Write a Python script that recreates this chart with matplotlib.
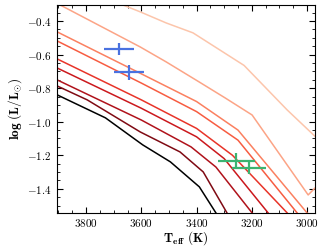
import matplotlib
matplotlib.use('Agg')
import matplotlib.pyplot as plt
from matplotlib.ticker import MultipleLocator

plt.rcParams['mathtext.fontset'] = 'cm'
plt.rcParams['font.family'] = 'serif'
plt.rcParams['font.serif'] = ['cmr10']
plt.rcParams['axes.formatter.use_mathtext'] = True
plt.rcParams['axes.unicode_minus'] = True

# --- isochrone tracks (Teff, log L), light -> dark ---
teff_1 = [3720, 3604, 3510, 3413, 3228, 3072, 2950]
logl_1 = [-0.27, -0.346, -0.412, -0.471, -0.665, -0.93, -1.12]
teff_2 = [3950, 3894, 3604, 3510, 3391, 3297, 3199, 2996, 2950]
logl_2 = [-0.27, -0.305, -0.555, -0.644, -0.763, -0.858, -0.960, -1.436, -1.36]
teff_3 = [3950, 3905, 3600, 3400, 3250, 3000, 2980]
logl_3 = [-0.43, -0.465, -0.715, -0.88, -1.05, -1.543, -1.58]
teff_4 = [3950, 3905, 3600, 3400, 3250, 3036, 3010]
logl_4 = [-0.48, -0.519, -0.77, -0.94, -1.11, -1.543, -1.60]
teff_5 = [3950, 3905, 3600, 3400, 3270, 3072, 3050]
logl_5 = [-0.59, -0.626, -0.87, -1.04, -1.20, -1.543, -1.59]
teff_6 = [3950, 3905, 3600, 3400, 3300, 3141, 3120]
logl_6 = [-0.645, -0.68, -0.92, -1.09, -1.22, -1.543, -1.59]
teff_7 = [3950, 3905, 3600, 3420, 3330, 3199, 3180]
logl_7 = [-0.715, -0.751, -0.99, -1.15, -1.27, -1.543, -1.59]
teff_8 = [3950, 3905, 3796, 3604, 3460, 3376, 3290, 3270]
logl_8 = [-0.75, -0.787, -0.870, -1.061, -1.180, -1.299, -1.543, -1.60]
teff_9 = [3950, 3905, 3730, 3595, 3495, 3390, 3330, 3310]
logl_9 = [-0.81, -0.84, -0.977, -1.138, -1.239, -1.388, -1.543, -1.60]

tracks = [(teff_1, logl_1), (teff_2, logl_2), (teff_3, logl_3), (teff_4, logl_4),
          (teff_5, logl_5), (teff_6, logl_6), (teff_7, logl_7), (teff_8, logl_8),
          (teff_9, logl_9)]
track_colors = ['#fcc5ab', '#fca486', '#fb8060', '#f75c41', '#e83429',
                '#cb181d', '#b0121b', '#7f0a13', '#000000']

# --- observed stars ---
blue_teff = [3682, 3645]
blue_teff_err = [54, 54]
blue_logl = [-0.567, -0.705]
blue_logl_err = [0.035, 0.045]

green_teff = [3257, 3210]
green_teff_err = [67, 60]
green_logl = [-1.233, -1.275]
green_logl_err = [0.045, 0.036]

fig = plt.figure(figsize=(3.32, 2.49), dpi=100)
ax = fig.add_axes([0.172, 0.145, 0.777, 0.835])

for (t, l), c in zip(tracks, track_colors):
    ax.plot(t, l, color=c, lw=1.1)

ax.errorbar(blue_teff, blue_logl, xerr=blue_teff_err, yerr=blue_logl_err,
            fmt='none', ecolor='#4a72e0', elinewidth=1.6, capsize=0)
ax.errorbar(green_teff, green_logl, xerr=green_teff_err, yerr=green_logl_err,
            fmt='none', ecolor='#3cb371', elinewidth=1.6, capsize=0)

ax.set_xlim(3905, 2971)
ax.set_ylim(-1.543, -0.305)
ax.xaxis.set_major_locator(MultipleLocator(200))
ax.xaxis.set_minor_locator(MultipleLocator(50))
ax.yaxis.set_major_locator(MultipleLocator(0.2))
ax.yaxis.set_minor_locator(MultipleLocator(0.05))
ax.tick_params(which='both', direction='in', top=True, right=True, labelsize=8)
ax.tick_params(axis='x', pad=3)
ax.tick_params(axis='y', pad=4)
ax.tick_params(which='major', length=4.5, width=0.8)
ax.tick_params(which='minor', length=2.5, width=0.6)

ax.set_xlabel(r'$\mathbf{T_{eff}\ (K)}$', fontsize=9.5, labelpad=0)
ax.set_ylabel(r'$\mathbf{log\ (L/L_{\odot})}$', fontsize=9.5, labelpad=2)

plt.savefig('out.png', dpi=100)
